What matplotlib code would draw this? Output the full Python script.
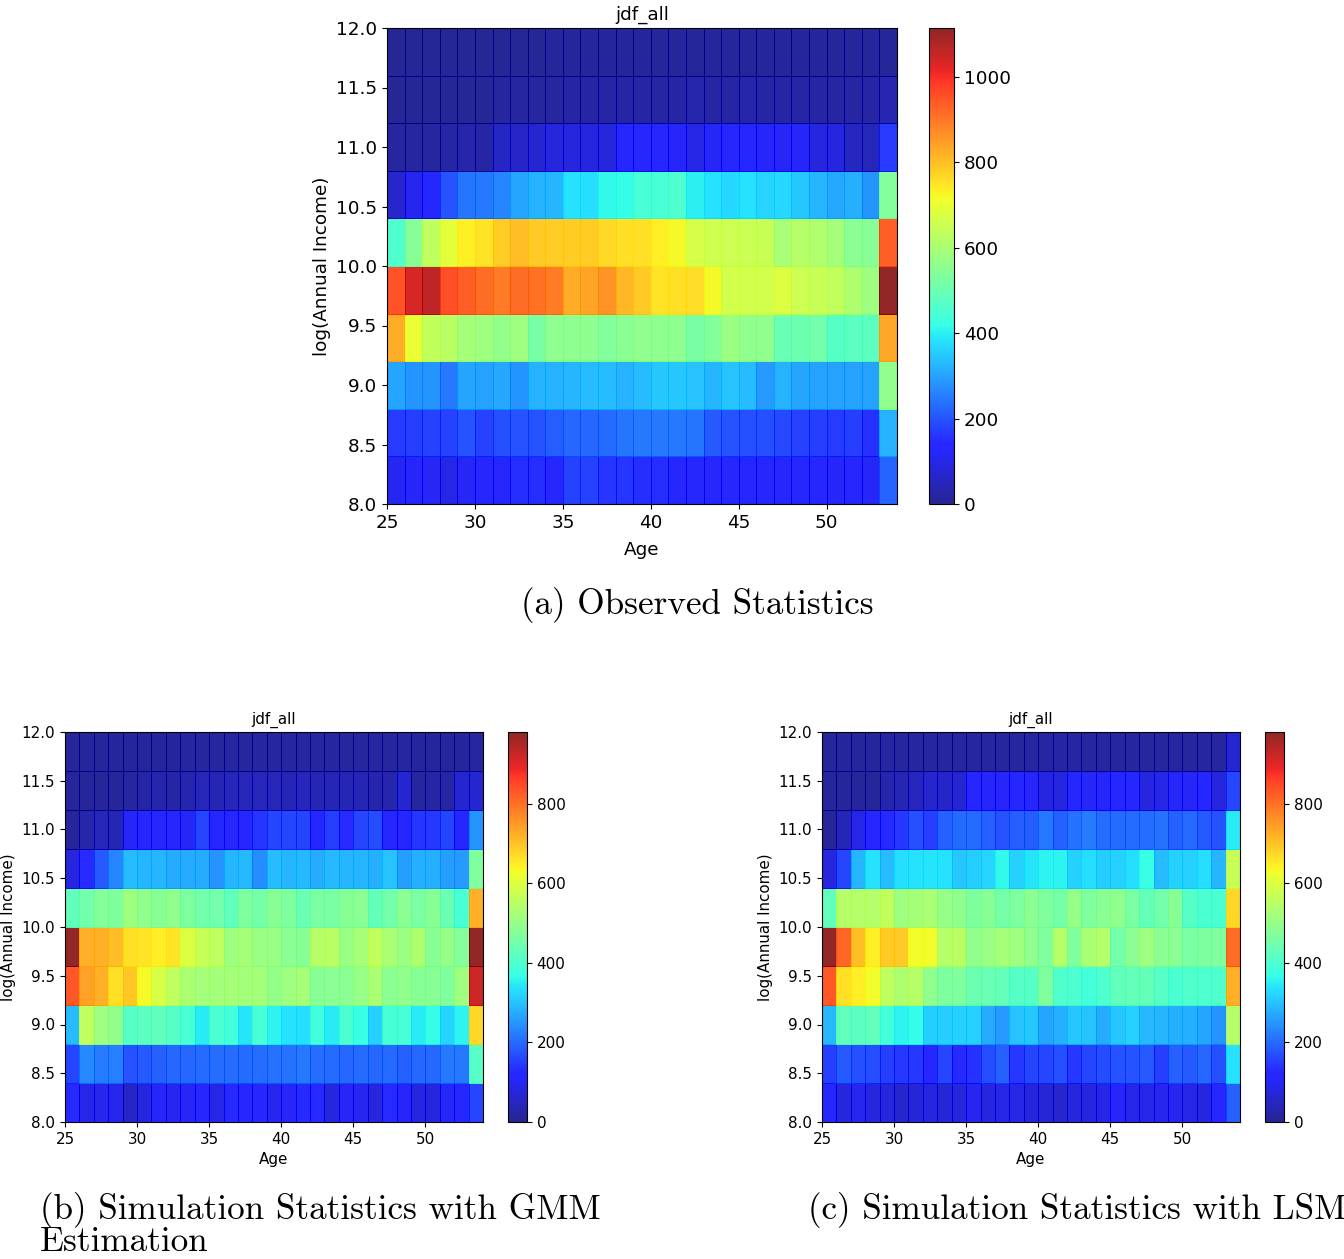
import matplotlib as mpl
mpl.use('Agg')
import matplotlib.pyplot as plt
import numpy as np

# age columns and income bin edges
AGES = [25, 26, 27, 28, 29, 30, 31, 32, 33, 34, 35, 36, 37, 38, 39, 40,
        41, 42, 43, 44, 45, 46, 47, 48, 49, 50, 51, 52, 53, 54]
INCOME = [8.0, 8.4, 8.8, 9.2, 9.6, 10.0, 10.4, 10.8, 11.2, 11.6, 12.0]

# counts, rows from low income (8.0-8.4) to high income (11.6-12.0)
observed = [
    [110, 120, 115, 100, 115, 125, 130, 150, 150, 140, 178, 178, 160, 160, 150, 150, 130, 125, 125, 135, 130, 130, 130, 125, 125, 120, 130, 115, 220],
    [167, 170, 178, 175, 200, 178, 195, 200, 200, 212, 225, 225, 230, 240, 245, 245, 245, 240, 205, 200, 195, 195, 185, 178, 170, 167, 170, 155, 321],
    [302, 283, 280, 245, 302, 297, 309, 280, 321, 321, 326, 335, 335, 321, 335, 347, 347, 340, 326, 340, 335, 290, 321, 302, 297, 297, 297, 297, 560],
    [827, 705, 640, 625, 588, 580, 563, 580, 522, 557, 557, 557, 540, 550, 560, 557, 557, 522, 540, 575, 560, 560, 500, 505, 510, 470, 475, 475, 832],
    [950, 1035, 1066, 955, 935, 915, 895, 915, 910, 895, 827, 837, 860, 813, 786, 750, 755, 760, 722, 665, 665, 665, 680, 655, 645, 640, 608, 580, 1115],
    [457, 545, 635, 690, 736, 750, 780, 805, 786, 780, 780, 780, 765, 755, 755, 740, 722, 670, 660, 655, 650, 645, 600, 620, 610, 590, 550, 545, 935],
    [67, 105, 130, 200, 240, 245, 265, 302, 321, 326, 380, 375, 410, 415, 445, 445, 455, 398, 380, 368, 380, 362, 368, 347, 326, 309, 315, 283, 540],
    [15, 15, 15, 25, 30, 25, 60, 65, 70, 85, 85, 90, 85, 130, 125, 125, 120, 100, 115, 125, 125, 120, 115, 120, 90, 90, 55, 45, 167],
    [8, 8, 8, 8, 8, 8, 15, 15, 15, 15, 25, 25, 25, 25, 22, 25, 25, 28, 25, 25, 28, 25, 25, 25, 22, 25, 25, 25, 35],
    [8, 8, 8, 8, 8, 8, 8, 8, 8, 10, 10, 12, 12, 12, 12, 12, 12, 12, 12, 12, 12, 12, 10, 10, 10, 10, 10, 10, 12],
]

gmm = [
    [127, 90, 95, 90, 50, 80, 100, 95, 100, 120, 85, 127, 110, 110, 95, 105, 127, 127, 80, 100, 95, 75, 127, 105, 80, 80, 100, 120, 157],
    [157, 235, 220, 225, 176, 180, 191, 196, 196, 200, 205, 205, 200, 205, 210, 210, 215, 205, 200, 196, 200, 196, 200, 188, 196, 196, 215, 215, 412],
    [294, 556, 510, 495, 412, 418, 425, 412, 392, 345, 398, 385, 340, 392, 355, 335, 330, 380, 345, 398, 370, 316, 392, 392, 345, 365, 320, 355, 676],
    [828, 742, 720, 666, 696, 634, 590, 556, 530, 518, 518, 522, 518, 518, 495, 510, 522, 480, 485, 485, 500, 530, 485, 490, 480, 480, 470, 510, 921],
    [980, 720, 720, 705, 666, 660, 650, 660, 600, 568, 556, 510, 522, 505, 505, 485, 480, 544, 550, 505, 522, 560, 530, 505, 535, 480, 500, 475, 980],
    [425, 449, 475, 470, 510, 490, 480, 490, 465, 449, 449, 425, 470, 455, 480, 470, 437, 460, 460, 480, 485, 430, 449, 485, 460, 480, 437, 392, 720],
    [80, 130, 180, 232, 294, 284, 284, 272, 272, 272, 248, 284, 289, 240, 294, 284, 289, 272, 289, 284, 284, 278, 300, 260, 278, 278, 260, 255, 470],
    [10, 25, 40, 38, 100, 122, 122, 115, 100, 157, 110, 125, 122, 140, 157, 160, 157, 125, 150, 130, 160, 165, 125, 122, 140, 145, 157, 115, 248],
    [8, 8, 8, 8, 15, 20, 30, 20, 30, 40, 35, 40, 40, 40, 40, 35, 45, 35, 35, 35, 35, 30, 27, 65, 15, 20, 20, 65, 65],
    [10, 10, 10, 10, 10, 10, 8, 8, 12, 12, 12, 15, 15, 15, 15, 15, 15, 15, 15, 15, 12, 12, 12, 12, 8, 8, 10, 10, 12],
]

lsm = [
    [125, 75, 95, 80, 75, 58, 70, 80, 70, 75, 95, 80, 85, 88, 75, 70, 60, 75, 80, 88, 105, 85, 88, 95, 95, 85, 80, 110, 190],
    [150, 180, 170, 165, 150, 145, 145, 125, 157, 130, 137, 165, 191, 145, 157, 157, 170, 145, 157, 165, 176, 176, 180, 150, 191, 180, 196, 170, 335],
    [289, 425, 418, 425, 385, 355, 365, 311, 311, 316, 316, 272, 255, 300, 305, 266, 278, 305, 300, 272, 305, 316, 289, 284, 278, 278, 266, 245, 540],
    [828, 666, 650, 630, 556, 535, 544, 490, 465, 470, 443, 437, 430, 412, 412, 470, 405, 400, 385, 400, 425, 430, 430, 412, 395, 405, 400, 405, 720],
    [980, 813, 705, 650, 690, 690, 630, 630, 540, 550, 490, 505, 522, 510, 490, 470, 544, 470, 530, 540, 449, 485, 510, 485, 485, 460, 465, 470, 805],
    [425, 544, 540, 540, 560, 510, 522, 530, 500, 490, 470, 480, 455, 465, 485, 470, 455, 500, 470, 485, 490, 460, 430, 449, 480, 412, 395, 395, 676],
    [80, 157, 284, 335, 294, 330, 335, 340, 335, 305, 311, 320, 360, 316, 340, 355, 355, 316, 330, 311, 316, 330, 370, 294, 316, 316, 330, 284, 568],
    [10, 38, 88, 120, 127, 145, 170, 150, 191, 200, 200, 191, 176, 186, 186, 215, 191, 210, 220, 205, 200, 200, 205, 210, 191, 200, 180, 176, 345],
    [10, 10, 10, 10, 25, 35, 45, 60, 55, 65, 110, 105, 105, 110, 105, 80, 80, 115, 100, 105, 110, 115, 80, 85, 100, 100, 115, 80, 160],
    [10, 10, 10, 10, 12, 12, 12, 15, 15, 15, 15, 15, 15, 15, 15, 18, 18, 18, 12, 15, 15, 15, 15, 12, 12, 12, 12, 12, 65],
]

W, H = 1344., 1259.


def px_rect(left, top, width, height):
    """pixel box (from top-left) -> figure fraction rect"""
    return [left / W, 1 - (top + height) / H, width / W, height / H]


def plot_jdf(fig, ax_rect, cb_rect, data, fsize, xpad=4):
    ax = fig.add_axes(px_rect(*ax_rect))
    cax = fig.add_axes(px_rect(*cb_rect))
    data = np.array(data, dtype=float)
    vmax = data.max()
    norm = mpl.colors.Normalize(vmin=0, vmax=vmax)
    im = ax.pcolormesh(AGES, INCOME, data, cmap='jet', norm=norm, alpha=0.85,
                       edgecolors='face', linewidth=0.6)
    ax.set_xlim(25, 54)
    ax.set_ylim(8, 12)
    ax.set_xticks([25, 30, 35, 40, 45, 50])
    yt = [8.0, 8.5, 9.0, 9.5, 10.0, 10.5, 11.0, 11.5, 12.0]
    ax.set_yticks(yt)
    ax.set_yticklabels(['%.1f' % v for v in yt])
    ax.tick_params(labelsize=fsize)
    ax.set_xlabel('Age', fontsize=fsize, labelpad=xpad)
    ax.set_ylabel('log(Annual Income)', fontsize=fsize)
    ax.set_title('jdf_all', fontsize=fsize)
    cbar = fig.colorbar(im, cax=cax)
    cbar.set_ticks([t for t in range(0, 1200, 200) if t <= vmax])
    cbar.ax.tick_params(labelsize=fsize)
    return ax


fig = plt.figure(figsize=(13.44, 12.59), dpi=100)

plot_jdf(fig, (387, 28, 510, 476), (929, 28, 25, 476), observed, 13.2, xpad=7)
plot_jdf(fig, (65, 732, 418, 390), (508, 732, 19, 390), gmm, 10.9)
plot_jdf(fig, (822, 732, 418, 390), (1265, 732, 19, 390), lsm, 10.9)

cap = dict(family='cmr10', fontsize=25.3, va='center')
fig.text(697 / W, 1 - 605 / H, '(a) Observed Statistics', ha='center', **cap)
fig.text(40 / W, 1 - 1210 / H, '(b) Simulation Statistics with GMM', ha='left', **cap)
fig.text(40 / W, 1 - 1242 / H, 'Estimation', ha='left', **cap)
fig.text(808 / W, 1 - 1210 / H, '(c) Simulation Statistics with LSM', ha='left', **cap)

fig.savefig('out.png', dpi=100)
